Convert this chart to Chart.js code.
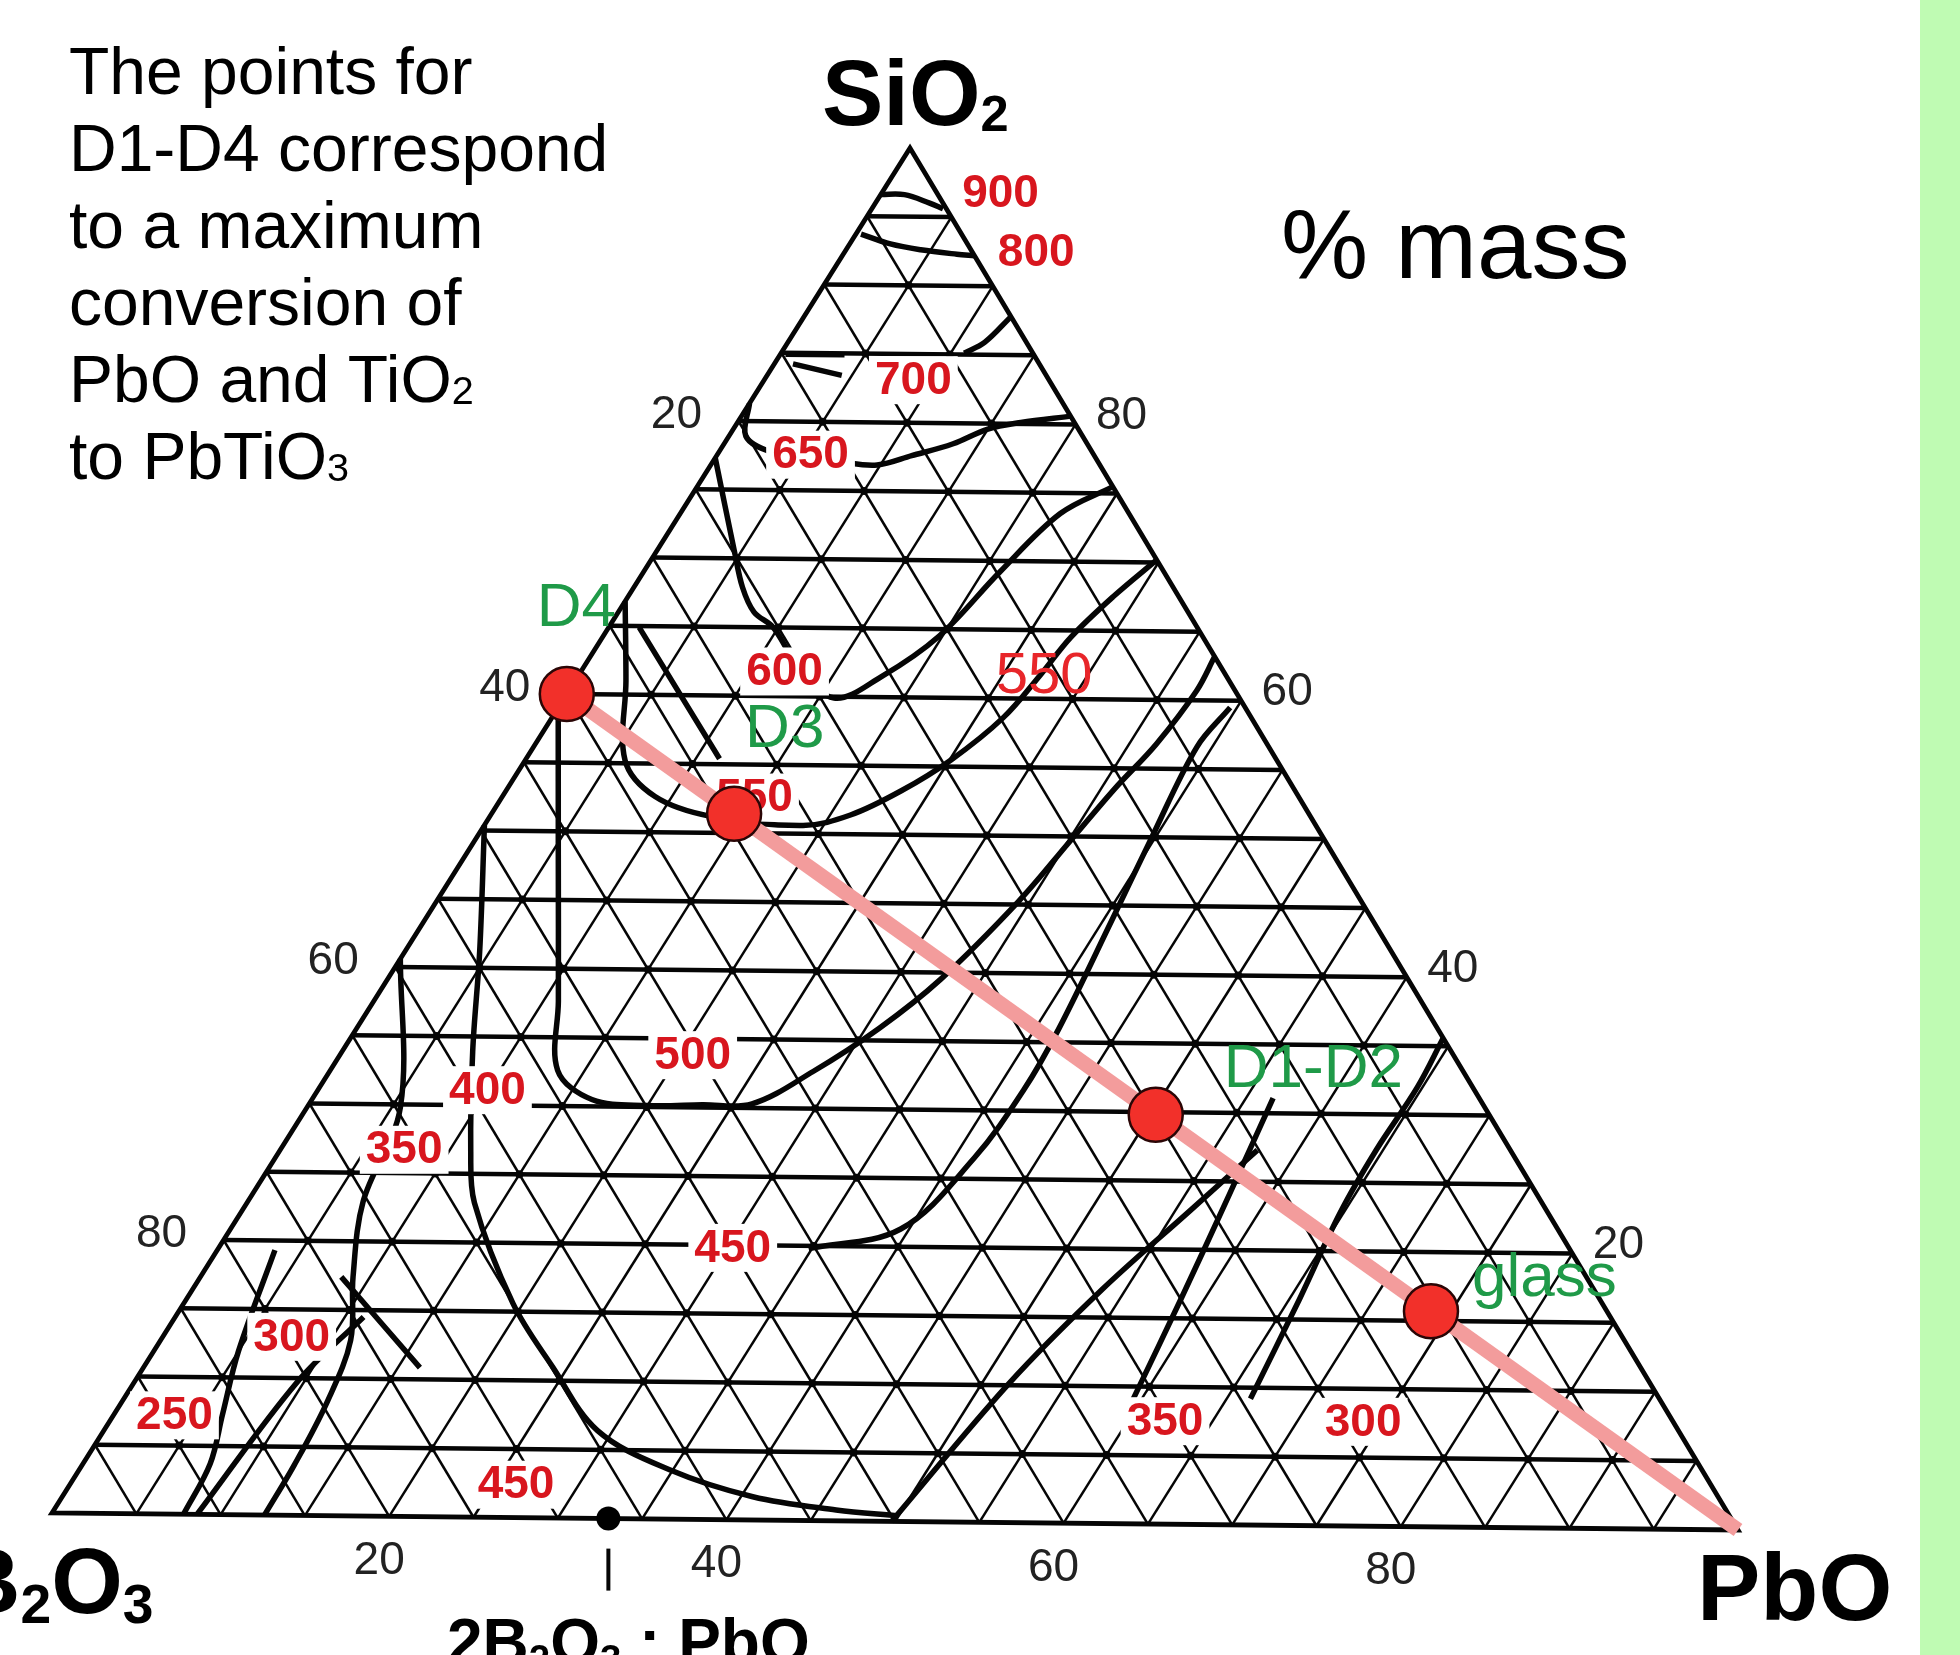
<!DOCTYPE html>
<html>
<head>
<meta charset="utf-8">
<title>B2O3 - SiO2 - PbO</title>
<script src="https://cdn.jsdelivr.net/npm/chart.js@4.4.1/dist/chart.umd.min.js"></script>
<style>
  html, body { margin: 0; padding: 0; background: #ffffff; overflow: hidden; }
  #c { display: block; width: 1960px; height: 1655px; }
</style>
</head>
<body>
<canvas id="c" width="1960" height="1655"></canvas>
<script>
// ---- Compositions are given as [PbO %, SiO2 %]; B2O3 = 100 - PbO - SiO2 ----

// Tick values printed along the three edges
const TICKS = [20, 40, 60, 80];

// Sample points on the D4 -> PbO join
const POINT_NAMES = ['D4', 'D3', 'D1-D2', 'glass'];
const POINT_PBO   = [0, 14.3, 50.3, 73.8];
const POINT_SIO2  = [60, 51.4, 29.8, 15.7];

// Join from D4 to the PbO corner
const JOIN_PBO  = [0, 100];
const JOIN_SIO2 = [60, 0];

// Compound 2B2O3 : PbO on the B2O3-PbO edge
const COMPOUND_PBO = 33;

// Isotherm labels (degrees C) and where they sit
const TEMP_TEXT = ['900', '800', '700', '650', '600', '550', '500', '400', '350', '450', '300', '250', '450', '350', '300'];
const TEMP_PBO  = [7.0, 11.3, 8.8, 5.5, 12.0, 14.9, 20.8, 10.0, 7.3, 30.3, 7.6, 3.6, 26.3, 62.2, 73.9];
const TEMP_SIO2 = [96.8, 92.5, 83.1, 77.6, 61.8, 52.6, 33.8, 31.1, 26.7, 19.8, 13.0, 7.2, 2.4, 7.5, 7.6];
// a second, lighter 550 label in the upper field
const TEMP_LIGHT_TEXT = ['550'];
const TEMP_LIGHT_PBO  = [27.5];
const TEMP_LIGHT_SIO2 = [61.6];

// Isotherms and field boundaries, [PbO, SiO2] pairs
const ISO_900 = [[0, 96.6], [1.4, 96.6], [3.2, 96.0], [4.2, 95.6]];
const ISO_800 = [[0.3, 93.7], [2.4, 93.0], [4.4, 92.6], [6.7, 92.3], [7.8, 92.2]];
const ISO_750 = [[12.2, 87.8], [11.6, 85.9], [10.8, 85.1]];
const DASH_A  = [[0.3, 84.9], [3.8, 84.9]];
const DASH_B  = [[1.1, 84.2], [4.4, 83.4]];
const ISO_650 = [[0, 81.3], [1.0, 78.9], [3.0, 77.8], [5.5, 77.4], [7.5, 77.1], [9.8, 76.9], [11.5, 77.6],
                 [13.5, 78.5], [15.0, 79.6], [16.7, 80.1], [19.4, 80.6]];
const ISO_600 = [[0, 77.3], [4.6, 70.5], [6.4, 67.9], [8.0, 66.1], [9.7, 65.0], [12.5, 62.3], [15.9, 59.9],
                 [17.9, 61.5], [19.8, 64.5], [21.0, 69.2], [22.4, 73.5], [24.5, 75.5]];
const ISO_550 = [[0, 66.8], [3.0, 61.0], [5.9, 55.2], [9.0, 52.6], [13.0, 51.2], [18.8, 50.6], [21.2, 51.4],
                 [23.3, 53.2], [25.1, 55.5], [26.6, 58.6], [27.2, 61.7], [27.6, 64.5], [28.6, 67.5], [29.8, 70.2]];
const JOIN_33 = [[1.8, 64.9], [11.4, 55.4]];
const ISO_500 = [[0, 59], [5.45, 48.3], [10.9, 37.6], [13.4, 32.6], [16.5, 30.5], [20.0, 30.1], [23.2, 30.2],
                 [26.1, 30.3], [28.5, 32.7], [30.8, 35.9], [32.6, 39.5], [34.3, 45.2], [35.1, 49.6],
                 [35.8, 53.5], [36.6, 56.8], [37.0, 60.7], [36.8, 63.2]];
const ISO_450 = [[0, 50.4], [4.4, 41.2], [7.7, 33.9], [11.3, 26.6], [13.4, 22.9], [19.4, 15.6], [24.1, 11.0],
                 [29.1, 6.4], [34.8, 3.6], [40.7, 1.7], [46.1, 0.8], [50, 0.4]];
const ISO_450B = [[34.8, 19.8], [39.5, 21.3], [41.2, 26.5], [41.6, 31.5], [41.4, 36.0], [40.5, 44.0],
                  [39.8, 49.9], [39.1, 56.6], [39.6, 59.5]];
const ISO_400 = [[49.8, 0], [51.6, 10.1], [53.6, 17.0], [55.9, 22.9], [57.6, 27.3]];
const ISO_350 = [[59.5, 9.1], [58.6, 16.5], [57.6, 24.0], [56.6, 31.1]];
const ISO_325 = [[66.4, 9.2], [65.6, 16.5], [64.8, 22.8], [64.6, 27.4], [64.7, 32.0], [64.4, 35.6]];
const ISO_300 = [[0, 40.6], [5.5, 29.8], [6.8, 22.9], [9.0, 17.4], [11.2, 12.8], [12.1, 8.3], [12.5, 3.7], [12.6, 0]];
const ISO_250 = [[3.4, 19.3], [5.0, 11.9], [6.4, 7.3], [7.5, 3.7], [7.8, 0]];
const BOUND_E = [[8.3, 17.4], [16.3, 10.85]];
const BOUND_F = [[8.6, 0], [9.6, 9.7], [11.1, 14.5]];

const CURVES = [ISO_900, ISO_800, ISO_750, DASH_A, DASH_B, ISO_650, ISO_600, ISO_550, JOIN_33,
                ISO_500, ISO_450, ISO_450B, ISO_400, ISO_350, ISO_325, ISO_300, ISO_250,
                BOUND_E, BOUND_F];

// ---- Frame geometry: pixel anchors of the B2O3, SiO2 and PbO corners ----
const CORNER_B = [52, 1513];
const CORNER_S = [910, 148];
const CORNER_P = [1738, 1530];
const W = 1960, H = 1655;

const SKEW_X = (CORNER_S[0] - CORNER_B[0]) / (CORNER_P[0] - CORNER_B[0]);
const SKEW_Y = (CORNER_B[1] - CORNER_P[1]) / (CORNER_B[1] - CORNER_S[1]);
const PX_PER_X = (CORNER_P[0] - CORNER_B[0]) / 100;
const PX_PER_Y = (CORNER_B[1] - CORNER_S[1]) / 100;
const X_MIN = -CORNER_B[0] / PX_PER_X;
const X_MAX = (W - CORNER_B[0]) / PX_PER_X;
const Y_MIN = -(H - CORNER_B[1]) / PX_PER_Y;
const Y_MAX = CORNER_B[1] / PX_PER_Y;

// ternary composition -> chart data space
function tern(pbo, sio2) {
  return { x: pbo + SKEW_X * sio2, y: sio2 + SKEW_Y * pbo };
}

const FONT = '"Liberation Sans", Arial, Helvetica, sans-serif';
const RED = '#d8161e';
const GREEN = '#1f9a48';

const datasets = [];
// sample points (drawn last, on top)
datasets.push({
  label: 'samples',
  order: 0,
  data: POINT_PBO.map((p, i) => tern(p, POINT_SIO2[i])),
  showLine: false,
  pointRadius: 27,
  pointBackgroundColor: '#f2302a',
  pointBorderColor: '#2a0606',
  pointBorderWidth: 2.5
});
// compound marker on the base
datasets.push({
  label: '2B2O3:PbO',
  order: 0,
  data: [tern(COMPOUND_PBO, 0)],
  showLine: false,
  pointRadius: 12,
  pointBackgroundColor: '#000',
  pointBorderWidth: 0
});
// D4 -> PbO join
datasets.push({
  label: 'join',
  order: 1,
  data: JOIN_PBO.map((p, i) => tern(p, JOIN_SIO2[i])),
  showLine: true,
  borderColor: '#f39c9c',
  borderWidth: 15,
  pointRadius: 0
});
// isotherms
CURVES.forEach((c, i) => {
  datasets.push({
    label: 'curve' + i,
    order: 2,
    data: c.map(([p, s]) => tern(p, s)),
    showLine: true,
    borderColor: '#050505',
    borderWidth: 5.5,
    tension: 0.35,
    pointRadius: 0
  });
});

function seg(ctx, xs, ys, a, b) {
  const A = tern(a[0], a[1]), B = tern(b[0], b[1]);
  ctx.beginPath();
  ctx.moveTo(xs.getPixelForValue(A.x), ys.getPixelForValue(A.y));
  ctx.lineTo(xs.getPixelForValue(B.x), ys.getPixelForValue(B.y));
  ctx.stroke();
}
function px(chart, p, s) {
  const t = tern(p, s);
  return [chart.scales.x.getPixelForValue(t.x), chart.scales.y.getPixelForValue(t.y)];
}

// text with a small lowered trailing part (chemical subscripts)
function chemText(ctx, parts, x, y, size, weight, subScale, subDrop) {
  let cx = x;
  parts.forEach(([txt, sub]) => {
    const fs = sub ? size * subScale : size;
    ctx.font = `${weight} ${fs}px ${FONT}`;
    ctx.fillText(txt, cx, sub ? y + subDrop : y);
    cx += ctx.measureText(txt).width;
  });
}

let labelsDrawn = false;

const diagram = {
  id: 'diagram',
  beforeDraw(chart) {
    const ctx = chart.ctx;
    ctx.save();
    ctx.fillStyle = '#ffffff';
    ctx.fillRect(0, 0, W, H);
    ctx.fillStyle = '#bffbb3';
    ctx.fillRect(1920, 0, W - 1920, H);
    ctx.restore();
    labelsDrawn = false;
  },
  beforeDatasetsDraw(chart) {
    const ctx = chart.ctx, xs = chart.scales.x, ys = chart.scales.y;
    ctx.save();
    ctx.strokeStyle = '#050505';
    ctx.lineCap = 'butt';
    for (let v = 5; v < 100; v += 5) {
      ctx.lineWidth = 2.5;
      seg(ctx, xs, ys, [v, 0], [v, 100 - v]);          // constant PbO
      seg(ctx, xs, ys, [100 - v, 0], [0, 100 - v]);    // constant B2O3
    }
    for (let v = 5; v < 100; v += 5) {
      ctx.lineWidth = 4.5;
      seg(ctx, xs, ys, [0, v], [100 - v, v]);          // constant SiO2
    }
    // node dots
    ctx.fillStyle = '#050505';
    for (let s = 5; s < 100; s += 5) {
      for (let p = 5; p < 100 - s; p += 5) {
        const [x, y] = px(chart, p, s);
        ctx.beginPath();
        ctx.arc(x, y, 4, 0, Math.PI * 2);
        ctx.fill();
      }
    }
    // frame
    ctx.lineWidth = 4.8;
    ctx.lineJoin = 'miter';
    ctx.beginPath();
    const b = px(chart, 0, 0), s = px(chart, 0, 100), p = px(chart, 100, 0);
    ctx.moveTo(b[0], b[1]); ctx.lineTo(s[0], s[1]); ctx.lineTo(p[0], p[1]); ctx.closePath();
    ctx.stroke();
    // tick under the compound
    const c = px(chart, COMPOUND_PBO, 0);
    ctx.lineWidth = 4;
    ctx.beginPath();
    ctx.moveTo(c[0], c[1] + 30); ctx.lineTo(c[0], c[1] + 72);
    ctx.stroke();
    ctx.restore();
  },
  beforeDatasetDraw(chart, args) {
    if (labelsDrawn || chart.data.datasets[args.index].order !== 1) return;
    labelsDrawn = true;
    const ctx = chart.ctx;
    ctx.save();
    ctx.textAlign = 'center';
    ctx.textBaseline = 'middle';
    // light, regular-weight label (no backing)
    ctx.font = `58px ${FONT}`;
    ctx.fillStyle = '#e8262a';
    TEMP_LIGHT_TEXT.forEach((t, i) => {
      const [x, y] = px(chart, TEMP_LIGHT_PBO[i], TEMP_LIGHT_SIO2[i]);
      ctx.fillText(t, x, y);
    });
    ctx.font = `bold 46px ${FONT}`;
    TEMP_TEXT.forEach((t, i) => {
      const [x, y] = px(chart, TEMP_PBO[i], TEMP_SIO2[i]);
      const w = ctx.measureText(t).width;
      ctx.fillStyle = '#ffffff';
      ctx.fillRect(x - w / 2 - 6, y - 24, w + 12, 48);
      ctx.fillStyle = RED;
      ctx.fillText(t, x, y + 1);
    });
    ctx.restore();
  },
  afterDatasetsDraw(chart) {
    const ctx = chart.ctx;
    ctx.save();
    // sample names
    ctx.fillStyle = GREEN;
    ctx.font = `62px ${FONT}`;
    ctx.textBaseline = 'alphabetic';
    ctx.textAlign = 'left';
    const nameOffsets = [[-30, -68], [11, -67], [68, -28], [41, -15]];
    POINT_NAMES.forEach((n, i) => {
      const [x, y] = px(chart, POINT_PBO[i], POINT_SIO2[i]);
      ctx.fillText(n, x + nameOffsets[i][0], y + nameOffsets[i][1]);
    });

    // edge ticks
    ctx.fillStyle = '#222222';
    ctx.font = `46px ${FONT}`;
    ctx.textAlign = 'center';
    ctx.textBaseline = 'middle';
    TICKS.forEach(v => {
      let [x, y] = px(chart, 0, 100 - v);          // B2O3 along the left edge
      ctx.fillText(String(v), x - 62, y - 6);
      [x, y] = px(chart, 100 - v, v);              // SiO2 along the right edge
      ctx.fillText(String(v), x + 46, y - 8);
      [x, y] = px(chart, v, 0);                    // PbO along the base
      ctx.fillText(String(v), x - 10, y + 45);
    });

    // corner names
    ctx.fillStyle = '#000000';
    ctx.textAlign = 'left';
    ctx.textBaseline = 'alphabetic';
    chemText(ctx, [['SiO', false], ['2', true]], 822, 125, 92, 'bold', 0.55, 6);
    chemText(ctx, [['PbO', false]], 1697, 1620, 95, 'bold', 1, 0);
    chemText(ctx, [['B', false], ['2', true], ['O', false], ['3', true]], -46, 1613, 92, 'bold', 0.6, 10);
    chemText(ctx, [['2B', false], ['2', true], ['O', false], ['3', true], [' : PbO', false]], 447, 1664, 64, 'bold', 0.6, 8);

    // units
    ctx.font = `98px ${FONT}`;
    ctx.fillText('% mass', 1281, 278);

    // note
    const note = [
      [['The points for', false]],
      [['D1-D4 correspond', false]],
      [['to a maximum', false]],
      [['conversion of', false]],
      [['PbO and TiO', false], ['2', true]],
      [['to PbTiO', false], ['3', true]]
    ];
    note.forEach((parts, i) => {
      chemText(ctx, parts, 69, 94 + i * 77, 66, 'normal', 0.6, 2);
    });
    ctx.restore();
  }
};

new Chart(document.getElementById('c'), {
  type: 'scatter',
  data: { datasets },
  options: {
    responsive: false,
    animation: false,
    events: [],
    devicePixelRatio: 1,
    layout: { padding: 0, autoPadding: false },
    plugins: { legend: { display: false }, tooltip: { enabled: false } },
    scales: {
      x: { type: 'linear', display: false, min: X_MIN, max: X_MAX },
      y: { type: 'linear', display: false, min: Y_MIN, max: Y_MAX }
    }
  },
  plugins: [diagram]
});
</script>
</body>
</html>
